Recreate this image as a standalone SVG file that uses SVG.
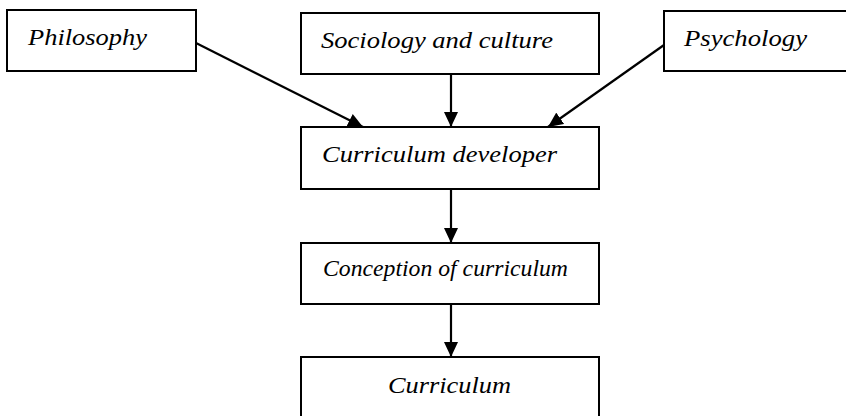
<svg xmlns="http://www.w3.org/2000/svg" width="846" height="416" viewBox="0 0 846 416">
  <style>
    .box { fill: #ffffff; stroke: #000000; stroke-width: 2; }
    .lbl { font-family: 'Liberation Serif', 'Times New Roman', serif; font-style: italic; font-size: 24px; fill: #000000; }
    .edge { stroke: #000000; stroke-width: 2.2; fill: none; marker-end: url(#head); }
  </style>
  <defs>
    <marker id="head" markerUnits="userSpaceOnUse" markerWidth="16" markerHeight="14" refX="15" refY="7" orient="auto">
      <path d="M0,0 L15,7 L0,14 Z" fill="#000000"/>
    </marker>
  </defs>
  <rect width="846" height="416" fill="#ffffff"/>

  <g id="philosophy">
    <rect class="box" x="7" y="10" width="189" height="61"/>
    <text class="lbl" x="28" y="45" textLength="119" lengthAdjust="spacingAndGlyphs">Philosophy</text>
  </g>
  <g id="sociology">
    <rect class="box" x="301" y="13" width="298" height="61"/>
    <text class="lbl" x="321" y="48" textLength="232" lengthAdjust="spacingAndGlyphs">Sociology and culture</text>
  </g>
  <g id="psychology">
    <rect class="box" x="664" y="11" width="190" height="60"/>
    <text class="lbl" x="684" y="46" textLength="123" lengthAdjust="spacingAndGlyphs">Psychology</text>
  </g>
  <g id="developer">
    <rect class="box" x="301" y="127" width="298" height="62"/>
    <text class="lbl" x="322" y="162" textLength="235" lengthAdjust="spacingAndGlyphs">Curriculum developer</text>
  </g>
  <g id="conception">
    <rect class="box" x="301" y="243" width="298" height="61"/>
    <text class="lbl" x="323" y="276" style="font-size:23.7px" textLength="245" lengthAdjust="spacingAndGlyphs">Conception of curriculum</text>
  </g>
  <g id="curriculum">
    <rect class="box" x="301" y="357" width="298" height="70"/>
    <text class="lbl" x="388" y="393" textLength="123" lengthAdjust="spacingAndGlyphs">Curriculum</text>
  </g>

  <g id="connectors">
    <line class="edge" x1="196" y1="43" x2="363" y2="127"/>
    <line class="edge" x1="451" y1="74" x2="451" y2="127"/>
    <line class="edge" x1="664" y1="45" x2="548" y2="127"/>
    <line class="edge" x1="451" y1="189" x2="451" y2="243"/>
    <line class="edge" x1="451" y1="304" x2="451" y2="357"/>
  </g>
</svg>
